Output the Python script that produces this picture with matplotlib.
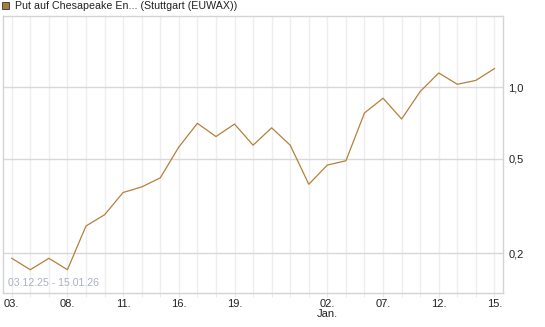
import matplotlib
matplotlib.use('Agg')
import matplotlib.pyplot as plt
from matplotlib.patches import Rectangle
from matplotlib.ticker import FixedLocator, NullLocator

plt.rcParams['font.family'] = ['Liberation Sans', 'DejaVu Sans']

# trading days 03.12.25 - 15.01.26
dates = ['03.12.', '04.12.', '05.12.', '08.12.', '09.12.', '10.12.', '11.12.',
         '12.12.', '15.12.', '16.12.', '17.12.', '18.12.', '19.12.', '22.12.',
         '23.12.', '29.12.', '30.12.', '02.01.', '05.01.', '06.01.', '07.01.',
         '08.01.', '09.01.', '12.01.', '13.01.', '14.01.', '15.01.']
prices = [0.19, 0.17, 0.19, 0.17, 0.26, 0.29, 0.36, 0.38, 0.415, 0.56, 0.705,
          0.62, 0.70, 0.57, 0.675, 0.57, 0.39, 0.47, 0.49, 0.78, 0.90, 0.735,
          0.96, 1.15, 1.03, 1.07, 1.20]
label_idx = [0, 3, 6, 9, 12, 17, 20, 23, 26]
label_txt = ['03.', '08.', '11.', '16.', '19.', '02.\nJan.', '07.', '12.', '15.']
y_ticks = [0.2, 0.5, 1.0]
y_labels = ['0,2', '0,5', '1,0']

W, H = 545, 327
fig = plt.figure(figsize=(W / 100, H / 100), dpi=100)
ax = fig.add_axes([3 / W, (H - 293) / H, 500 / W, 277 / H])

x = list(range(len(prices)))
ax.plot(x, prices, color='#b5803a', lw=0.9, zorder=3)

ax.set_yscale('log')
ax.set_ylim(0.1356, 2.0)
ax.set_xlim(-0.47, 26.46)

ax.yaxis.set_major_locator(FixedLocator(y_ticks))
ax.yaxis.set_minor_locator(NullLocator())
ax.set_yticklabels(y_labels)
ax.yaxis.tick_right()
ax.tick_params(axis='y', length=0, pad=4, labelsize=8, labelcolor='#222222')

ax.set_xticks(x, minor=True)
ax.set_xticks(label_idx)
ax.set_xticklabels(label_txt, linespacing=1.0)
ax.tick_params(axis='x', which='both', length=3, color='#e6e6e6',
               labelsize=8, labelcolor='#222222', pad=1)
ax.grid(True, axis='x', which='both', color='#eeeeee', lw=1.0, zorder=0)
ax.grid(True, axis='y', which='major', color='#d8d8d8', lw=1.0, zorder=1)

for s in ax.spines.values():
    s.set_color('#d4d4d4')
    s.set_linewidth(1.0)

ax.text(5 / 500, 5 / 277, '03.12.25 - 15.01.26', transform=ax.transAxes,
        fontsize=7.6, color='#a8b0c0', ha='left', va='bottom', zorder=4)

fig.patches.append(Rectangle((2 / W, (H - 9) / H), 7 / W, 7 / H,
                             transform=fig.transFigure, facecolor='#a67c45',
                             edgecolor='#333333', lw=0.6))
fig.text(15 / W, (H - 6) / H, 'Put auf Chesapeake En... (Stuttgart (EUWAX))',
         fontsize=7.7, color='#222222', ha='left', va='center')

fig.savefig('out.png', dpi=100)
